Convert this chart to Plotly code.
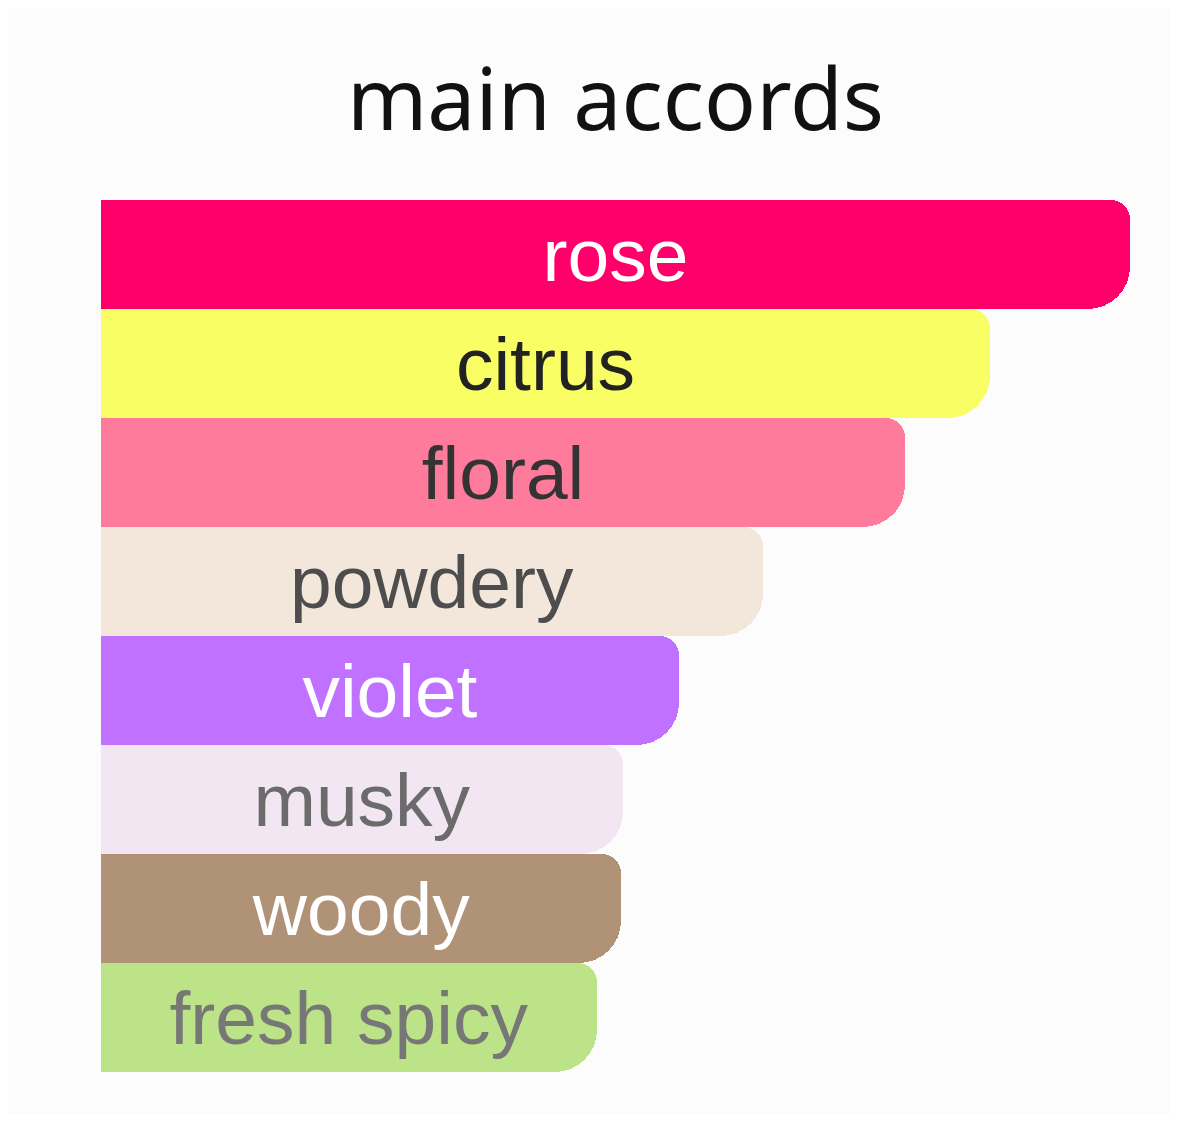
import plotly.graph_objects as go

# accords, top to bottom, with their strength as % of the strongest
accords = ["rose", "citrus", "floral", "powdery", "violet", "musky", "woody", "fresh spicy"]
strength = [100, 86.4, 78.1, 64.3, 56.2, 50.7, 50.5, 48.2]
bar_colors = ["#FF006A", "#F9FE64", "#FF7B9C", "#F3E6DA", "#C071FF", "#F1E6F1", "#B09276", "#BCE388"]
label_colors = ["#FFFFFF", "#222222", "#333333", "#4D4D4D", "#FFFFFF", "#6B6B6B", "#FFFFFF", "#777777"]

# page has an 8px body margin, so the figure is a bit smaller than the window
W, H = 1163, 1106

fig = go.Figure()

# upper half of each bar with a tight top corner (drawn first, under the labels)
fig.add_trace(go.Bar(
    x=strength, y=accords, orientation="h",
    width=0.5, offset=-0.5,
    marker=dict(color=bar_colors, line=dict(width=0), cornerradius=19),
    hoverinfo="skip",
    showlegend=False,
))

# full bars: big rounding on the right end (shows on the lower corner)
fig.add_trace(go.Bar(
    x=strength, y=accords, orientation="h",
    width=1,
    marker=dict(color=bar_colors, line=dict(width=0), cornerradius=42),
    text=accords,
    textposition="inside",
    insidetextanchor="middle",
    constraintext="none",
    textangle=0,
    textfont=dict(family="Liberation Sans, Arial, sans-serif", size=75, color=label_colors),
    hoverinfo="skip",
    showlegend=False,
))

fig.update_layout(
    width=W, height=H,
    margin=dict(l=93, r=41, t=192, b=42),
    paper_bgcolor="#FCFCFC",
    plot_bgcolor="#FCFCFC",
    barmode="overlay",
    bargap=0,
    title=dict(
        text="main accords",
        font=dict(family="Noto Sans, Open Sans, sans-serif", size=86, color="#111111"),
        x=0.5, xref="paper", xanchor="center",
        y=1 - 92 / H, yref="container", yanchor="middle",
        pad=dict(t=0, b=0),
    ),
    xaxis=dict(range=[0, 100], visible=False, fixedrange=True),
    yaxis=dict(autorange="reversed", visible=False, fixedrange=True),
)

fig.write_html("out.html")
